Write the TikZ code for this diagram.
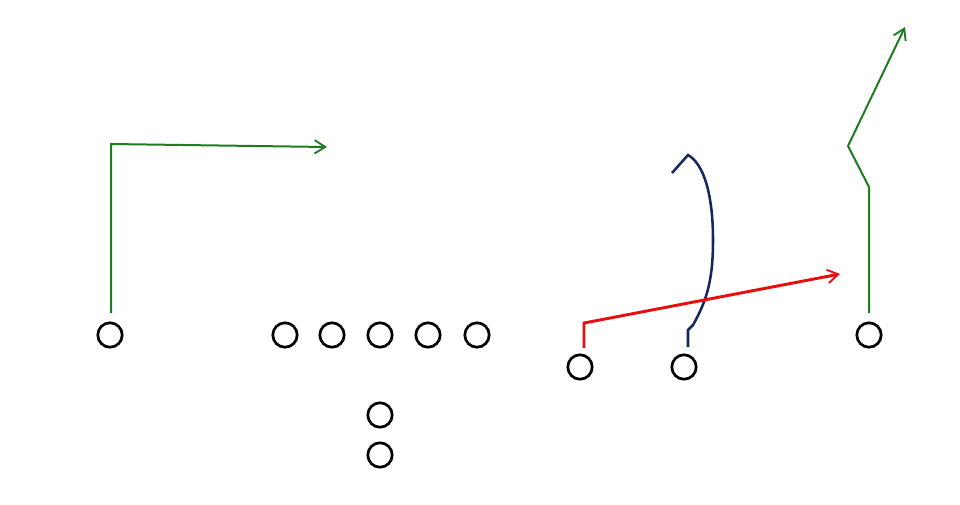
\documentclass[tikz,border=0pt]{standalone}
\usetikzlibrary{arrows.meta}
\definecolor{routegreen}{RGB}{30,125,30}
\definecolor{routered}{RGB}{230,15,15}
\definecolor{routeblue}{RGB}{20,40,95}
\tikzset{
  player/.style={circle,draw=black,line width=2pt,minimum size=18.3pt,inner sep=0pt},
  tip/.style={-{Straight Barb[length=8pt,width=10pt,line width=1.4pt]}},
  greenroute/.style={draw=routegreen,line width=1.5pt},
  redroute/.style={draw=routered,line width=2.2pt},
  blueroute/.style={draw=routeblue,line width=1.9pt}
}

\begin{document}

\begin{tikzpicture}[x=0.75pt,y=-0.75pt]
\useasboundingbox (0,0) rectangle (960,504);
% players
\node[player] (wl) at (110,335) {};
\node[player] (l1) at (285,335) {};
\node[player] (l2) at (332,335) {};
\node[player] (l3) at (380,335) {};
\node[player] (l4) at (428,335) {};
\node[player] (l5) at (477,335) {};
\node[player] (b1) at (380,415) {};
\node[player] (b2) at (380,455) {};
\node[player] (rs) at (580,367) {};
\node[player] (bs) at (684,367) {};
\node[player] (wr) at (869,335) {};
% route points
\coordinate (a0) at (111,313);
\coordinate (a1) at (111,144);
\coordinate (a2) at (327,147);
\coordinate (r0) at (584,348);
\coordinate (r1) at (584,323);
\coordinate (r2) at (840,274);
\coordinate (c0) at (688,347);
\coordinate (c1) at (688,330);
\coordinate (c2) at (693,325);
\coordinate (c3) at (713,240);
\coordinate (c4) at (688,155);
\coordinate (c5) at (672,173);
\coordinate (g0) at (869,313);
\coordinate (g1) at (869,187);
\coordinate (g2) at (848,146);
\coordinate (g3) at (905,27);
% routes
\draw[greenroute,tip] (a0) -- (a1) -- (a2);
\draw[blueroute] (c0) -- (c1) -- (c2) .. controls (707,300) and (713,280) .. (c3) .. controls (713,195) and (704,164) .. (c4) -- (c5);
\draw[redroute,tip] (r0) -- (r1) -- (r2);
\draw[greenroute,tip] (g0) -- (g1) -- (g2) -- (g3);
\end{tikzpicture}

\end{document}
